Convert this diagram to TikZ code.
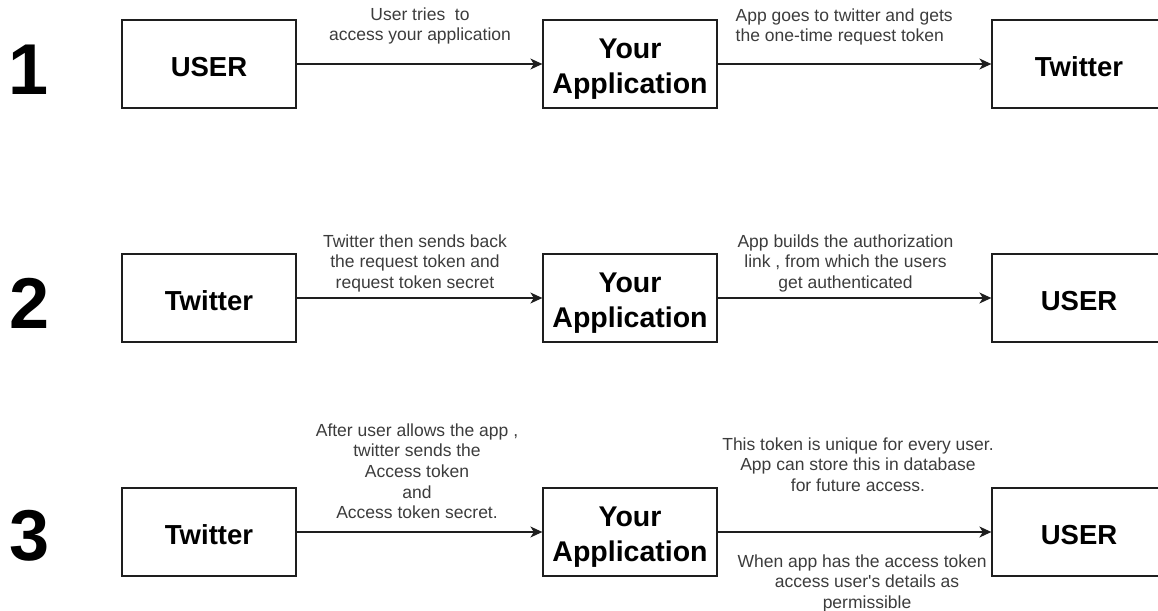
\documentclass[tikz,border=0pt]{standalone}
\usepackage{fontspec}
\setmainfont{Liberation Sans}
\usetikzlibrary{arrows.meta}
\definecolor{boxline}{RGB}{30,30,30}
\definecolor{labelgray}{RGB}{60,60,60}
\tikzset{
  box/.style={draw=boxline, line width=1.3pt, fill=white, minimum width=174pt, minimum height=88pt, inner sep=0pt},
  boxtitle/.style={font=\fontsize{27.5}{30}\selectfont\bfseries, anchor=base, inner sep=0pt},
  apptitle/.style={font=\fontsize{28.5}{35}\selectfont\bfseries, anchor=north, align=center, inner sep=0pt},
  steplabel/.style={font=\fontsize{17.5}{20.6}\selectfont, text=labelgray, anchor=north, align=center, inner sep=0pt},
  stepnum/.style={font=\fontsize{72}{80}\selectfont\bfseries, anchor=base, inner sep=0pt},
  conn/.style={draw=boxline, line width=1.3pt, -{Stealth[length=12pt,width=11pt,inset=3.5pt]}}
}
\begin{document}
\begin{tikzpicture}[x=1pt,y=-1pt]
\useasboundingbox (0,0) rectangle (1158,610);
% step numbers
\node[stepnum] (n1) at (28.5,94) {1};
\node[stepnum] (n2) at (29.5,328) {2};
\node[stepnum] (n3) at (29.5,560) {3};
% labels
\node[steplabel] (l1a) at (420,7.5) {User tries\ \ to\\access your application};
\node[steplabel, anchor=north west, align=left] (l1b) at (735.5,8.5) {App goes to twitter and gets\\the one-time request token};
\node[steplabel] (l2a) at (415,234.2) {Twitter then sends back\\the request token and\\request token secret};
\node[steplabel] (l2b) at (845.5,234.2) {App builds the authorization\\link , from which the users\\get authenticated};
\node[steplabel] (l3a) at (417,423.5) {After user allows the app ,\\twitter sends the\\Access token\\and\\Access token secret.};
\node[steplabel] (l3b) at (858,437.5) {This token is unique for every user.\\App can store this in database\\for future access.};
\node[steplabel] (l3c) at (867,554.5) {When app has the access token ,\\access user\textquotesingle s details as\\permissible};
% boxes
\node[box] (u1) at (209,64) {};
\node[box] (a1) at (630,64) {};
\node[box] (t1) at (1079,64) {};
\node[box] (t2) at (209,298) {};
\node[box] (a2) at (630,298) {};
\node[box] (u2) at (1079,298) {};
\node[box] (t3) at (209,532) {};
\node[box] (a3) at (630,532) {};
\node[box] (u3) at (1079,532) {};
% titles
\node[boxtitle, yshift=-12.5pt] (u1t) at (u1.center) {USER};
\node[apptitle, yshift=25.5pt] (a1t) at (a1.center) {Your\\Application};
\node[boxtitle, yshift=-12.5pt] (t1t) at (t1.center) {Twitter};
\node[boxtitle, yshift=-12.5pt] (t2t) at (t2.center) {Twitter};
\node[apptitle, yshift=25.5pt] (a2t) at (a2.center) {Your\\Application};
\node[boxtitle, yshift=-12.5pt] (u2t) at (u2.center) {USER};
\node[boxtitle, yshift=-12.5pt] (t3t) at (t3.center) {Twitter};
\node[apptitle, yshift=25.5pt] (a3t) at (a3.center) {Your\\Application};
\node[boxtitle, yshift=-12.5pt] (u3t) at (u3.center) {USER};
% connectors
\draw[conn] (u1.east) -- (a1.west);
\draw[conn] (a1.east) -- (t1.west);
\draw[conn] (t2.east) -- (a2.west);
\draw[conn] (a2.east) -- (u2.west);
\draw[conn] (t3.east) -- (a3.west);
\draw[conn] (a3.east) -- (u3.west);
\end{tikzpicture}
\end{document}
